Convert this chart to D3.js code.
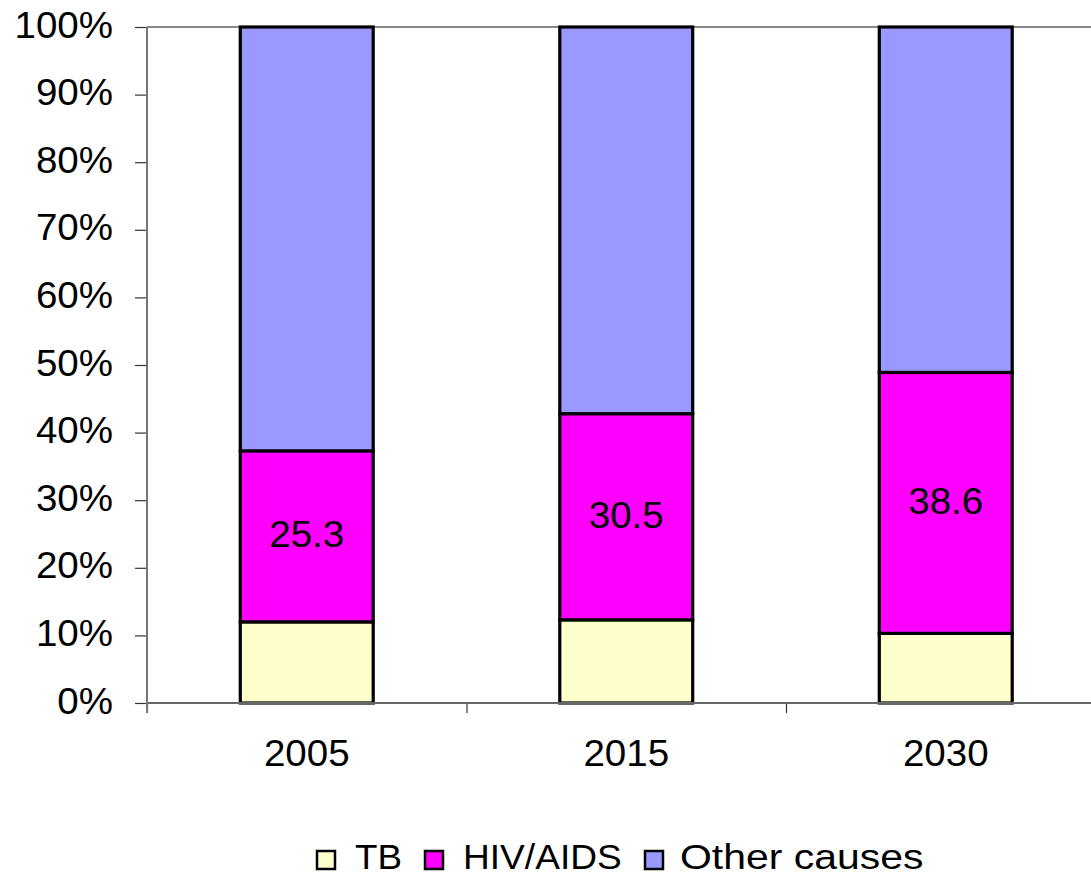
<!DOCTYPE html>
<html>
<head>
<meta charset="utf-8">
<script src="https://cdn.jsdelivr.net/npm/d3@7"></script>
<style>
  html, body { margin: 0; padding: 0; background: #fff; }
  svg { display: block; font-family: "Liberation Sans", Arial, sans-serif; }
</style>
</head>
<body>
<svg id="chart" width="1091" height="877"></svg>
<script>
// ---- data ----
const years = ["2005", "2015", "2030"];
const seriesNames = ["TB", "HIV/AIDS", "Other causes"];
const tb = [12.0, 12.3, 10.3];
const hiv = [25.3, 30.5, 38.6];
const other = [62.7, 57.2, 51.1];
const hivLabels = ["25.3", "30.5", "38.6"];
const yTicks = [0, 0.1, 0.2, 0.3, 0.4, 0.5, 0.6, 0.7, 0.8, 0.9, 1.0];
const colors = ["#FFFFCC", "#FF00FF", "#9999FF"];

(function () {
// ---- layout ----
const W = 1091, H = 877;
const mLeft = 147, mRight = 1105.5, mTop = 27, mBottom = 703;
const svg = d3.select("#chart");
svg.append("rect").attr("width", W).attr("height", H).attr("fill", "#fff");

const rows = years.map((yr, i) => ({ year: yr, "TB": tb[i], "HIV/AIDS": hiv[i], "Other causes": other[i] }));
const stack = d3.stack().keys(seriesNames).offset(d3.stackOffsetExpand);
const stacked = stack(rows);

const x = d3.scaleBand().domain(years).range([mLeft, mRight]).paddingInner(0.584).paddingOuter(0.292);
const xb = d3.scaleLinear().domain([0, years.length]).range([mLeft, mRight]);
const y = d3.scaleLinear().domain([0, 1]).range([mBottom, mTop]);

// plot top border
svg.append("line").attr("x1", mLeft).attr("x2", W).attr("y1", mTop).attr("y2", mTop)
  .attr("stroke", "#888").attr("stroke-width", 2);

// bars
const g = svg.append("g");
stacked.forEach((s, si) => {
  g.selectAll(null).data(s).enter().append("rect")
    .attr("x", d => x(d.data.year))
    .attr("width", x.bandwidth())
    .attr("y", d => y(d[1]))
    .attr("height", d => y(d[0]) - y(d[1]))
    .attr("fill", colors[si])
    .attr("stroke", "#000")
    .attr("stroke-width", 3.2);
});

// HIV labels
const hivLayer = stacked[1];
svg.selectAll(null).data(hivLayer).enter().append("text")
  .attr("class", "stretch")
  .attr("x", d => x(d.data.year) + x.bandwidth() / 2)
  .attr("y", d => (y(d[0]) + y(d[1])) / 2 + 11)
  .attr("text-anchor", "middle")
  .attr("font-size", 36)
  .attr("fill", "#000")
  .text((d, i) => hivLabels[i]);

// y axis
const yAxis = d3.axisLeft(y).tickValues(yTicks).tickFormat(d3.format(".0%"))
  .tickSize(12).tickSizeOuter(0).tickPadding(22);
const ya = svg.append("g").attr("transform", `translate(${mLeft},0)`).call(yAxis);
ya.select(".domain").remove();
ya.selectAll(".tick line").attr("stroke", "#333").attr("stroke-width", 1.2);
ya.selectAll(".tick text").attr("class", "stretch").attr("font-size", 36)
  .attr("font-family", "Liberation Sans, Arial, sans-serif").attr("fill", "#000").attr("dy", 10);

// x axis (boundary ticks)
const xAxis = d3.axisBottom(xb).tickValues(d3.range(years.length + 1)).tickFormat("")
  .tickSize(10).tickSizeOuter(0);
const xa = svg.append("g").attr("transform", `translate(0,${mBottom})`).call(xAxis);
xa.select(".domain").remove();
xa.selectAll(".tick line").attr("stroke", "#333").attr("stroke-width", 1.2);

// axis lines
svg.append("line").attr("x1", mLeft).attr("x2", W).attr("y1", mBottom).attr("y2", mBottom)
  .attr("stroke", "#666").attr("stroke-width", 2);
svg.append("line").attr("x1", mLeft).attr("x2", mLeft).attr("y1", mTop).attr("y2", mBottom + 10)
  .attr("stroke", "#777").attr("stroke-width", 2);

// x labels
svg.selectAll(null).data(years).enter().append("text")
  .attr("class", "stretch")
  .attr("x", d => x(d) + x.bandwidth() / 2)
  .attr("y", 766)
  .attr("text-anchor", "middle")
  .attr("font-size", 36)
  .attr("fill", "#000")
  .text(d => d);

// legend
const legendLayout = [
  { sx: 317, tx: 355, stretch: 1.05 },
  { sx: 425, tx: 463, stretch: 1.06 },
  { sx: 645, tx: 680, stretch: 1.17 }
];
const lg = svg.append("g");
seriesNames.forEach((name, i) => {
  const L = legendLayout[i];
  lg.append("rect").attr("x", L.sx).attr("y", 851).attr("width", 18).attr("height", 18)
    .attr("fill", colors[i]).attr("stroke", "#000").attr("stroke-width", 2.5);
  lg.append("text").attr("class", "legend-text").attr("data-stretch", L.stretch)
    .attr("x", L.tx).attr("y", 869).attr("font-size", 35).attr("fill", "#000").text(name);
});

// horizontal stretch to mimic the original rendering
svg.selectAll("text.stretch").each(function () {
  const w = this.getComputedTextLength();
  d3.select(this).attr("textLength", w * 1.07).attr("lengthAdjust", "spacingAndGlyphs");
});
svg.selectAll("text.legend-text").each(function () {
  const w = this.getComputedTextLength();
  const f = +this.getAttribute("data-stretch");
  d3.select(this).attr("textLength", w * f).attr("lengthAdjust", "spacingAndGlyphs");
});
})();
</script>
</body>
</html>
